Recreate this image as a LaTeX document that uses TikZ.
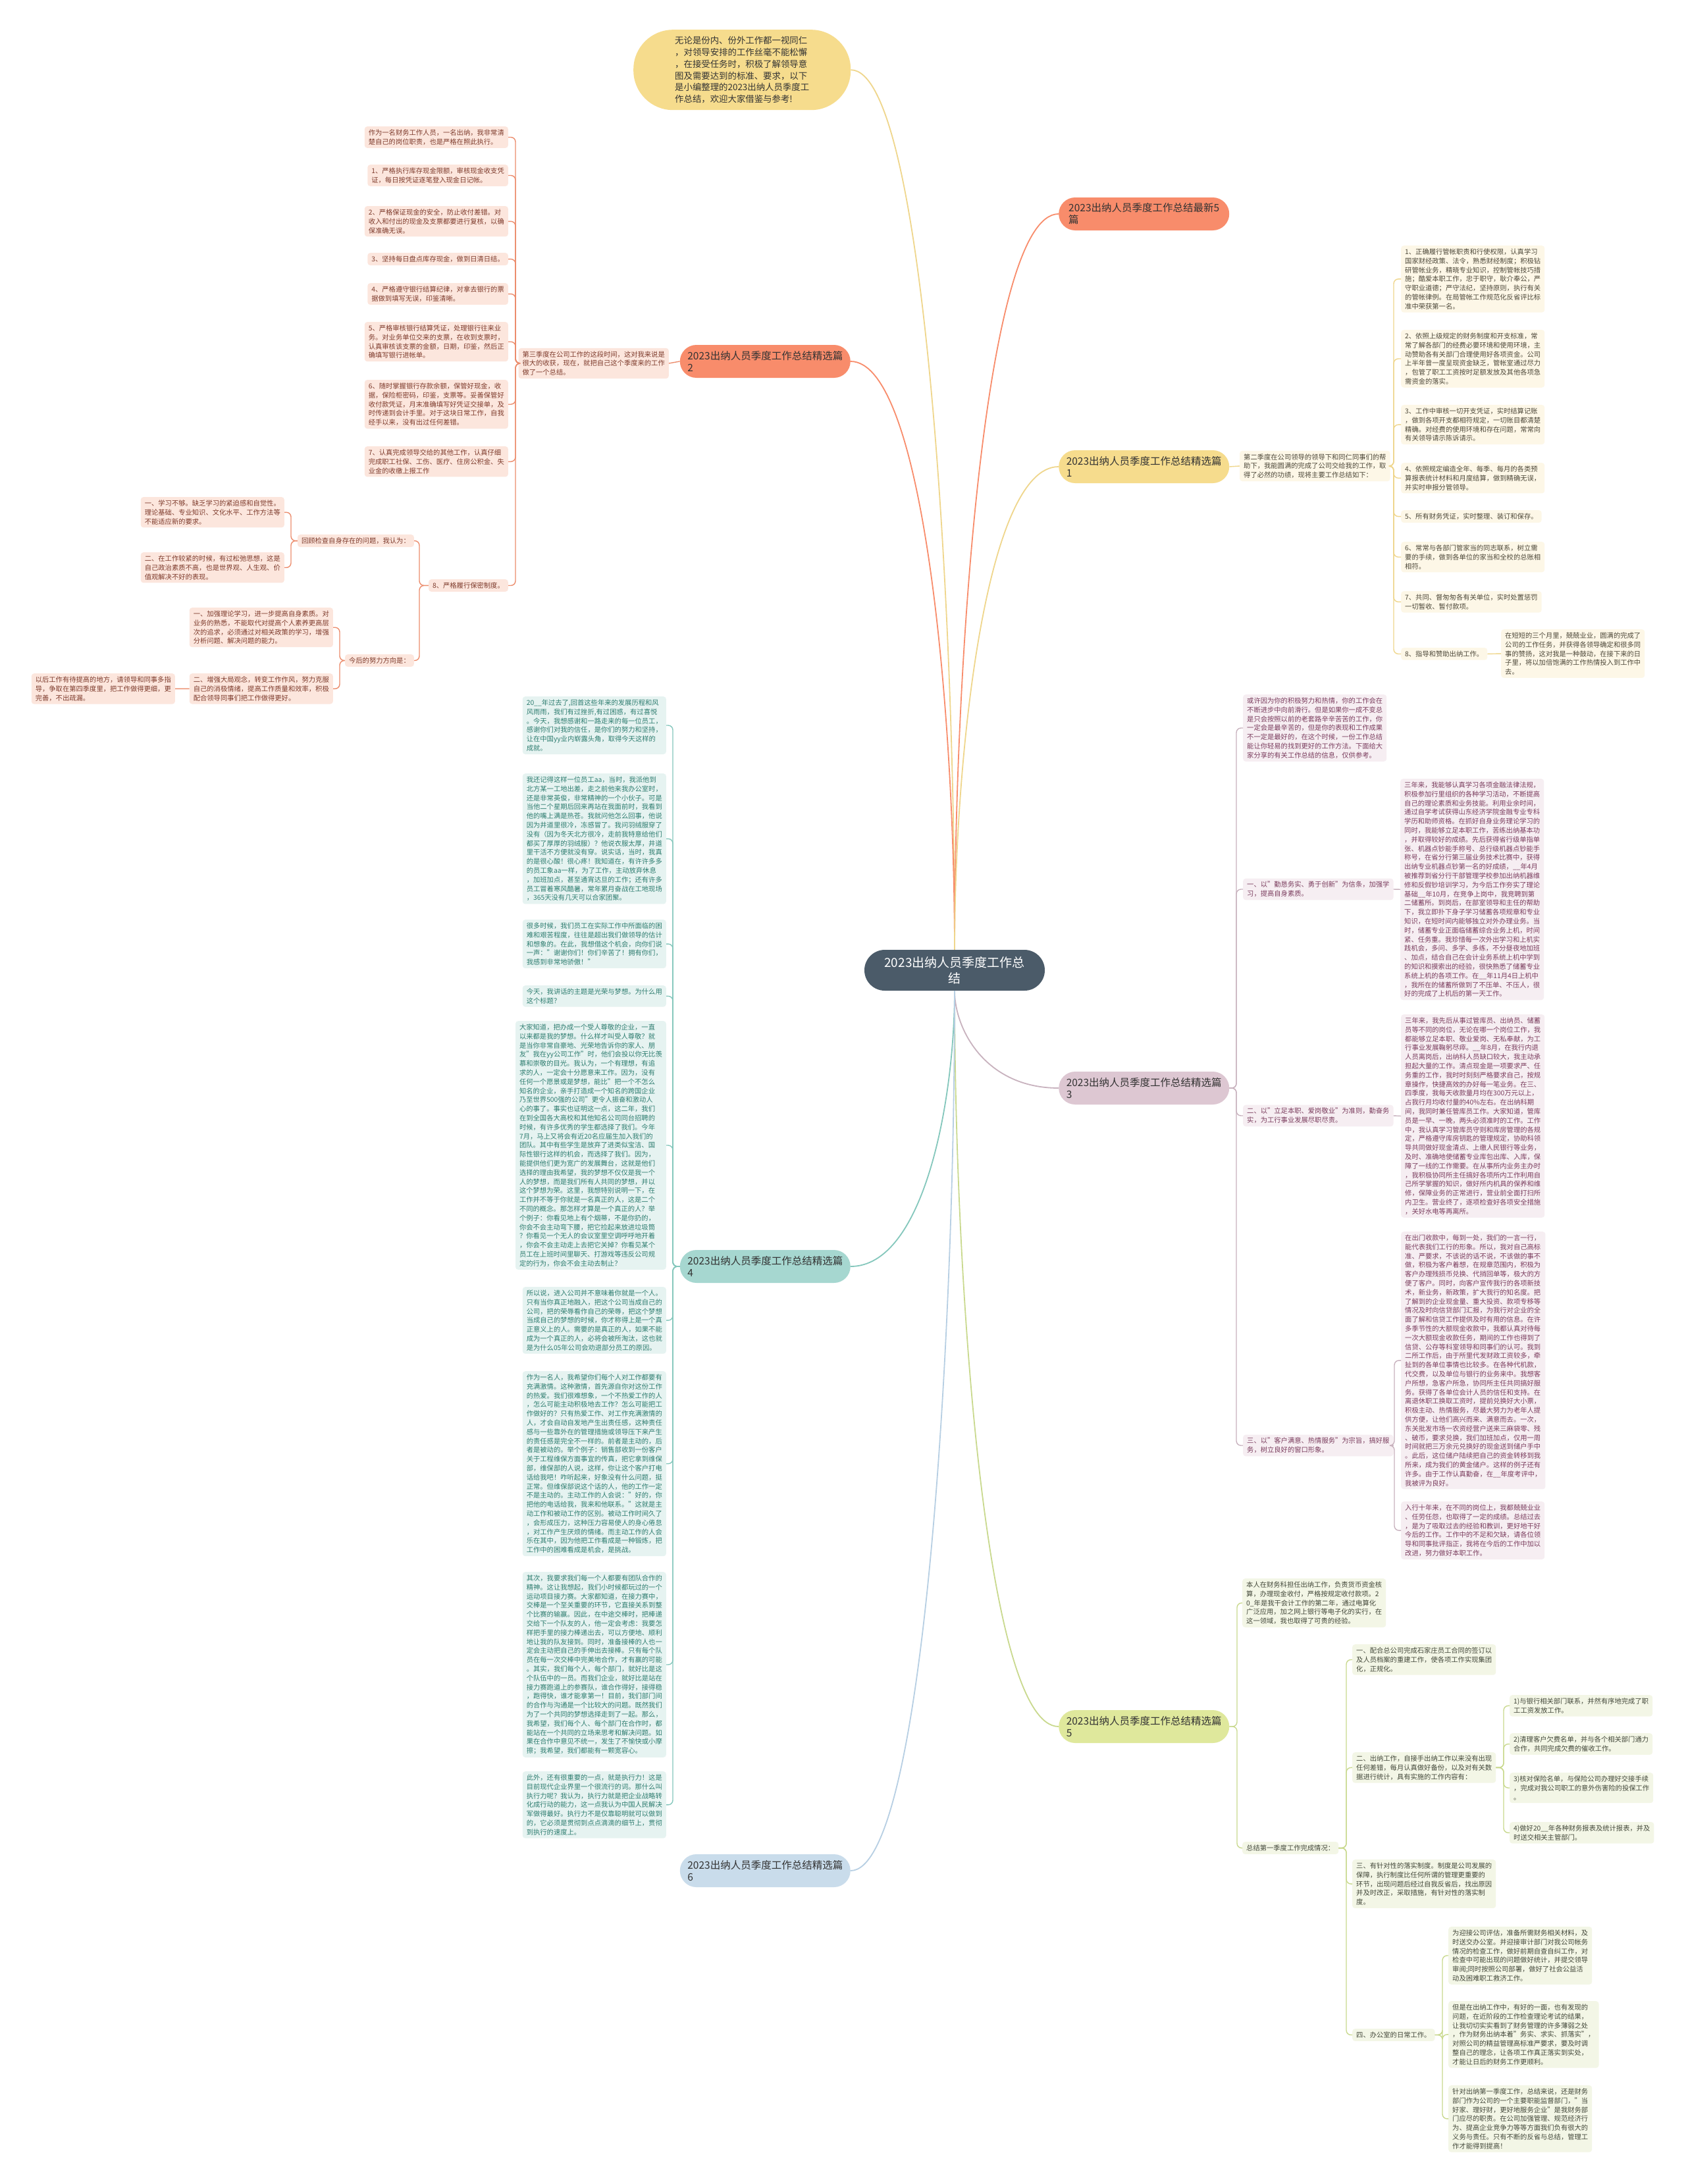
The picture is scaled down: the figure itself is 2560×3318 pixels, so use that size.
\documentclass[tikz,border=0pt]{standalone}
\usepackage{fontspec}
\setmainfont{Noto Sans CJK SC}
\usepackage{tikz}
\usetikzlibrary{positioning}
\usepackage{xcolor}

\definecolor{rootc}{HTML}{4B5B69}
\definecolor{cCoral}{HTML}{F88C6B}
\definecolor{cGold}{HTML}{F6DC8D}
\definecolor{cMauve}{HTML}{DDC7D2}
\definecolor{cTeal}{HTML}{A6D7D0}
\definecolor{cLime}{HTML}{DFE89C}
\definecolor{cSky}{HTML}{C9DCEB}
\definecolor{lCoral}{HTML}{EC8C6C}
\definecolor{lGold}{HTML}{EFD68C}
\definecolor{lMauve}{HTML}{C8B2BE}
\definecolor{lTeal}{HTML}{84C7BC}
\definecolor{lLime}{HTML}{C9D98E}
\definecolor{lSky}{HTML}{B7CFE3}
\definecolor{fCoral}{HTML}{FCE6DD}
\definecolor{fGold}{HTML}{FDF7E7}
\definecolor{fMauve}{HTML}{F6EEF2}
\definecolor{fTeal}{HTML}{E6F3F1}
\definecolor{fLime}{HTML}{F3F6E6}
\definecolor{tCoral}{HTML}{7E3B2C}
\definecolor{tGold}{HTML}{4D4839}
\definecolor{tMauve}{HTML}{7B3D5E}
\definecolor{tTeal}{HTML}{2E7D70}
\definecolor{tLime}{HTML}{43483A}

\begin{document}
\begin{tikzpicture}[x=1pt, y=-1pt]
            \tikzstyle{root} = [rectangle, fill=rootc, text=white, rounded corners=31pt, minimum width=274pt, minimum height=62pt, align=center, font=\fontsize{19}{24}\selectfont]
            \tikzstyle{topic} = [rectangle, rounded corners=25pt, minimum width=259pt, minimum height=50pt, align=left, text=black!80, font=\fontsize{15.5}{18}\selectfont]
            \tikzstyle{intro} = [rectangle, fill=cGold, rounded corners=60pt, minimum width=330pt, minimum height=122pt, align=left, text=black!80, font=\fontsize{13.4}{17.9}\selectfont]
            \tikzstyle{leaf} = [rectangle, rounded corners=4pt, inner xsep=6pt, inner ysep=4.5pt, align=left, font=\fontsize{10.3}{13.8}\selectfont]
            \tikzstyle{leafr} = [leaf, fill=fCoral, text=tCoral]
            \tikzstyle{leafy} = [leaf, fill=fGold, text=tGold]
            \tikzstyle{leafm} = [leaf, fill=fMauve, text=tMauve]
            \tikzstyle{leaft} = [leaf, fill=fTeal, text=tTeal]
            \tikzstyle{leafl} = [leaf, fill=fLime, text=tLime]
            \tikzstyle{wire} = [draw, line width=1.4pt, rounded corners=7pt]
            \tikzstyle{bough} = [draw, line width=1.8pt]

            \useasboundingbox (0,0) rectangle (2560,3318);
            \fill [white] (0,0) rectangle (2560,3318);

            % centre and main topics
            \node [root] (root) at (1450,1474) {2023出纳人员季度工作总\\结};
            \node [intro, anchor=north west] (intro) at (962,45) {无论是份内、份外工作都一视同仁\\，对领导安排的工作丝毫不能松懈\\，在接受任务时，积极了解领导意\\图及需要达到的标准、要求，以下\\是小编整理的2023出纳人员季度工\\作总结，欢迎大家借鉴与参考!};
            \node [topic, fill=cCoral, anchor=west] (t0) at (1608,325) {2023出纳人员季度工作总结最新5\\篇};
            \node [topic, fill=cCoral, anchor=east] (t2) at (1292,549) {2023出纳人员季度工作总结精选篇\\2};
            \node [topic, fill=cGold, anchor=west] (t1) at (1608,709) {2023出纳人员季度工作总结精选篇\\1};
            \node [topic, fill=cMauve, anchor=west] (t3) at (1608,1653) {2023出纳人员季度工作总结精选篇\\3};
            \node [topic, fill=cTeal, anchor=east] (t4) at (1292,1924) {2023出纳人员季度工作总结精选篇\\4};
            \node [topic, fill=cLime, anchor=west] (t5) at (1608,2623) {2023出纳人员季度工作总结精选篇\\5};
            \node [topic, fill=cSky, anchor=east] (t6) at (1292,2842) {2023出纳人员季度工作总结精选篇\\6};

            \path [bough, lGold] (root.north) .. controls (1450,908) and (1403,106) .. (intro.east);
            \path [bough, cCoral] (root.north) .. controls (1450,996) and (1497,325) .. (t0.west);
            \path [bough, cCoral] (root.north) .. controls (1450,1085) and (1403,549) .. (t2.east);
            \path [bough, lGold] (root.north) .. controls (1450,1149) and (1497,709) .. (t1.west);
            \path [bough, lMauve] (root.south) .. controls (1450,1564) and (1497,1653) .. (t3.west);
            \path [bough, lTeal] (root.south) .. controls (1450,1673) and (1403,1924) .. (t4.east);
            \path [bough, lLime] (root.south) .. controls (1450,1952) and (1497,2623) .. (t5.west);
            \path [bough, lSky] (root.south) .. controls (1450,2040) and (1403,2842) .. (t6.east);

            % branch 2
            \node [leafr, anchor=east] (n2) at (1016,552) {第三季度在公司工作的这段时间，这对我来说是\\很大的收获，现在，就把自己这个季度来的工作\\做了一个总结。};
            \node [leafr, anchor=north east] (n2a) at (772,192) {作为一名财务工作人员，一名出纳，我非常清\\楚自己的岗位职责，也是严格在照此执行。};
            \node [leafr, anchor=north east] (n2b) at (772,250) {1、严格执行库存现金限额，审核现金收支凭\\证，每日按凭证逐笔登入现金日记帐。};
            \node [leafr, anchor=north east] (n2c) at (772,313) {2、严格保证现金的安全，防止收付差错。对\\收入和付出的现金及支票都要进行复核，以确\\保准确无误。};
            \node [leafr, anchor=north east] (n2d) at (772,384) {3、坚持每日盘点库存现金，做到日清日结。};
            \node [leafr, anchor=north east] (n2e) at (772,430) {4、严格遵守银行结算纪律，对拿去银行的票\\据做到填写无误，印鉴清晰。};
            \node [leafr, anchor=north east] (n2f) at (772,489) {5、严格审核银行结算凭证，处理银行往来业\\务。对业务单位交来的支票，在收到支票时，\\认真审核该支票的金额，日期，印鉴，然后正\\确填写银行进帐单。};
            \node [leafr, anchor=north east] (n2g) at (772,577) {6、随时掌握银行存款余额，保管好现金，收\\据，保险柜密码，印鉴，支票等。妥善保管好\\收付款凭证，月末准确填写好凭证交接单，及\\时传递到会计手里。对于这块日常工作，自我\\经手以来，没有出过任何差错。};
            \node [leafr, anchor=north east] (n2h) at (772,678) {7、认真完成领导交给的其他工作，认真仔细\\完成职工社保、工伤、医疗、住房公积金、失\\业金的收缴上报工作};
            \node [leafr, anchor=north east] (n2i) at (772,880) {8、严格履行保密制度。};
            \node [leafr, anchor=north east] (n2j) at (629,812) {回顾检查自身存在的问题，我认为：};
            \node [leafr, anchor=north east] (n2k) at (432,755) {一、学习不够。缺乏学习的紧迫感和自觉性。\\理论基础、专业知识、文化水平、工作方法等\\不能适应新的要求。};
            \node [leafr, anchor=north east] (n2l) at (432,839) {二、在工作较紧的时候，有过松弛思想，这是\\自己政治素质不高，也是世界观、人生观、价\\值观解决不好的表现。};
            \node [leafr, anchor=north east] (n2m) at (629,994) {今后的努力方向是：};
            \node [leafr, anchor=north east] (n2n) at (506,923) {一、加强理论学习，进一步提高自身素质。对\\业务的熟悉，不能取代对提高个人素养更高层\\次的追求，必须通过对相关政策的学习，增强\\分析问题、解决问题的能力。};
            \node [leafr, anchor=north east] (n2o) at (506,1023) {二、增强大局观念，转变工作作风，努力克服\\自己的消极情绪，提高工作质量和效率，积极\\配合领导同事们把工作做得更好。};
            \node [leafr, anchor=north east] (n2p) at (266,1023) {以后工作有待提高的地方，请领导和同事多指\\导，争取在第四季度里，把工作做得更细，更\\完善，不出疏漏。};

            \path [wire, lCoral] (t2.west) -- (n2.east);
            \foreach \c in {n2a,n2b,n2c,n2d,n2e,n2f,n2g,n2h,n2i}
                \path [wire, lCoral] (n2.west) -| ([xshift=11pt]\c.east) -- (\c.east);
            \foreach \c in {n2j,n2m}
                \path [wire, lCoral] (n2i.west) -| ([xshift=8pt]\c.east) -- (\c.east);
            \foreach \c in {n2k,n2l}
                \path [wire, lCoral] (n2j.west) -| ([xshift=10pt]\c.east) -- (\c.east);
            \foreach \c in {n2n,n2o}
                \path [wire, lCoral] (n2m.west) -| ([xshift=10pt]\c.east) -- (\c.east);
            \path [wire, lCoral] (n2o.west) -- (n2p.east);

            % branch 1
            \node [leafy, anchor=west] (n1) at (1883,708) {第二季度在公司领导的领导下和同仁同事们的帮\\助下，我能圆满的完成了公司交给我的工作，取\\得了必然的功绩，现将主要工作总结如下：};
            \node [leafy, anchor=north west] (n1a) at (2128,373) {1、正确履行管帐职责和行使权限，认真学习\\国家财经政策、法令，熟悉财经制度；积极钻\\研管帐业务，精晓专业知识，控制管帐技巧措\\施；酷爱本职工作，忠于职守，耿介奉公，严\\守职业道德；严守法纪，坚持原则，执行有关\\的管帐律例。在局管帐工作规范化反省评比标\\准中荣获第一名。};
            \node [leafy, anchor=north west] (n1b) at (2128,501) {2、依照上级规定的财务制度和开支标准，常\\常了解各部门的经费必要环境和使用环境，主\\动赞助各有关部门合理使用好各项资金。公司\\上半年曾一度呈现资金缺乏，管帐室通过尽力\\，包管了职工工资按时足额发放及其他各项急\\需资金的落实。};
            \node [leafy, anchor=north west] (n1c) at (2128,615) {3、工作中审核一切开支凭证，实时结算记账\\，做到各项开支都相符规定，一切账目都清楚\\精确。对经费的使用环境和存在问题，常常向\\有关领导请示陈诉请示。};
            \node [leafy, anchor=north west] (n1d) at (2128,703) {4、依照规定编造全年、每季、每月的各类预\\算报表统计材料和月度结算，做到精确无误，\\并实时申报分管领导。};
            \node [leafy, anchor=north west] (n1e) at (2128,775) {5、所有财务凭证，实时整理、装订和保存。};
            \node [leafy, anchor=north west] (n1f) at (2128,823) {6、常常与各部门管家当的同志联系，树立需\\要的手续，做到各单位的家当和全校的总账相\\相符。};
            \node [leafy, anchor=north west] (n1g) at (2128,898) {7、共同、督匆匆各有关单位，实时处置惩罚\\一切暂收、暂付款项。};
            \node [leafy, anchor=north west] (n1h) at (2128,984) {8、指导和赞助出纳工作。};
            \node [leafy, anchor=north west] (n1i) at (2280,956) {在短短的三个月里，兢兢业业，圆满的完成了\\公司的工作任务，并获得各领导确定和很多同\\事的赞扬，这对我是一种鼓动，在接下来的日\\子里，将以加倍饱满的工作热情投入到工作中\\去。};

            \path [wire, lGold] (t1.east) -- (n1.west);
            \foreach \c in {n1a,n1b,n1c,n1d,n1e,n1f,n1g,n1h}
                \path [wire, lGold] (n1.east) -| ([xshift=-11pt]\c.west) -- (\c.west);
            \path [wire, lGold] (n1h.east) -- (n1i.west);

            % branch 3
            \node [leafm, anchor=north west] (n3) at (1888,1055) {或许因为你的积极努力和热情，你的工作会在\\不断进步中向前滑行。但是如果你一成不变总\\是只会按照以前的老套路辛辛苦苦的工作，你\\一定会是最辛苦的，但是你的表现和工作成果\\不一定是最好的，在这个时候，一份工作总结\\能让你轻易的找到更好的工作方法。下面给大\\家分享的有关工作总结的信息，仅供参考。};
            \node [leafm, anchor=north west] (n3b) at (2127,1183) {三年来，我能够认真学习各项金融法律法规，\\积极参加行里组织的各种学习活动，不断提高\\自己的理论素质和业务技能。利用业余时间，\\通过自学考试获得山东经济学院金融专业专科\\学历和助师资格。在抓好自身业务理论学习的\\同时，我能够立足本职工作，苦练出纳基本功\\，并取得较好的成绩。先后获得省行级单指单\\张、机器点钞能手称号、总行级机器点钞能手\\称号，在省分行第三届业务技术比赛中，获得\\出纳专业机器点钞第一名的好成绩，\_\_年4月\\被推荐到省分行干部管理学校参加出纳机器维\\修和反假钞培训学习，为今后工作夯实了理论\\基础\_\_年10月，在竞争上岗中，我竞聘到第\\二储蓄所。到岗后，在部室领导和主任的帮助\\下，我立即扑下身子学习储蓄各项规章和专业\\知识，在短时间内能够独立对外办理业务。当\\时，储蓄专业正面临储蓄综合业务上机，时间\\紧、任务重。我珍惜每一次外出学习和上机实\\践机会，多问、多学、多练，不分昼夜地加班\\、加点，结合自己在会计业务系统上机中学到\\的知识和摸索出的经验，很快熟悉了储蓄专业\\系统上机的各项工作。在\_\_年11月4日上机中\\，我所在的储蓄所做到了不压单、不压人，很\\好的完成了上机后的第一天工作。};
            \node [leafm, anchor=west] (n3a) at (1888,1351) {一、以"勤恳务实、勇于创新"为信条，加强学\\习，提高自身素质。};
            \node [leafm, anchor=north west] (n3d) at (2128,1541) {三年来，我先后从事过管库员、出纳员、储蓄\\员等不同的岗位，无论在哪一个岗位工作，我\\都能够立足本职、敬业爱岗、无私奉献，为工\\行事业发展鞠躬尽瘁。\_\_年8月，在我行内退\\人员离岗后，出纳科人员缺口较大，我主动承\\担起大量的工作。清点现金是一项要求严、任\\务重的工作，我时时刻刻严格要求自己，按规\\章操作，快捷高效的办好每一笔业务。在三、\\四季度，我每天收款量月均在300万元以上，\\占我行月均收付量的40\%左右。在出纳科期\\间，我同时兼任管库员工作。大家知道，管库\\员是一早、一晚，两头必须准时的工作。工作\\中，我认真学习管库员守则和库房管理的各规\\定，严格遵守库房钥匙的管理规定，协助科领\\导共同做好现金清点、上缴人民银行等业务，\\及时、准确地使储蓄专业库包出库、入库，保\\障了一线的工作需要。在从事所内业务主办时\\，我积极协同所主任搞好各项所内工作利用自\\己所学掌握的知识，做好所内机具的保养和维\\修，保障业务的正常进行，营业前全面打扫所\\内卫生。营业终了，逐项检查好各项安全措施\\，关好水电等再离所。};
            \node [leafm, anchor=west] (n3c) at (1888,1695) {二、以"立足本职、爱岗敬业"为准则，勤奋务\\实，为工行事业发展尽职尽责。};
            \node [leafm, anchor=north west] (n3f) at (2128,1871) {在出门收款中，每到一处，我们的一言一行，\\能代表我们工行的形象。所以，我对自己高标\\准、严要求，不该说的话不说，不该做的事不\\做，积极为客户着想，在规章范围内，积极为\\客户办理残损币兑换、代捎回单等，极大的方\\便了客户。同时，向客户宣传我行的各项新技\\术，新业务，新政策，扩大我行的知名度。把\\了解到的企业现金量、重大投资、款项专移等\\情况及时向信贷部门汇报，为我行对企业的全\\面了解和信贷工作提供及时有用的信息。在许\\多季节性的大额现金收款中，我都认真对待每\\一次大额现金收款任务，期间的工作也得到了\\信贷、公存等科室领导和同事们的认可。我到\\二所工作后，由于所里代发财政工资较多，牵\\扯到的各单位事情也比较多。在各种代机款，\\代交费，以及单位与银行的业务来中。我想客\\户所想，急客户所急，协同所主任共同搞好服\\务。获得了各单位会计人员的信任和支持。在\\离退休职工换取工资时，提前兑换好大小票，\\积极主动、热情服务，尽最大努力为老年人提\\供方便，让他们高兴而来、满意而去。一次，\\东关批发市场一农资经营户送来三麻袋零、残\\、破币，要求兑换，我们加班加点，仅用一周\\时间就把三万余元兑换好的现金送到储户手中\\。此后，这位储户陆续把自己的资金转移到我\\所来，成为我们的黄金储户。这样的例子还有\\许多。由于工作认真勤奋，在\_\_年度考评中，\\我被评为良好。};
            \node [leafm, anchor=north west] (n3g) at (2128,2281) {入行十年来，在不同的岗位上，我都兢兢业业\\、任劳任怨，也取得了一定的成绩。总结过去\\，是为了吸取过去的经验和教训，更好地干好\\今后的工作。工作中的不足和欠缺，请各位领\\导和同事批评指正，我将在今后的工作中加以\\改进，努力做好本职工作。};
            \node [leafm, anchor=west] (n3e) at (1888,2196) {三、以"客户满意、热情服务"为宗旨，搞好服\\务，树立良好的窗口形象。};

            \foreach \c in {n3,n3a,n3c,n3e}
                \path [wire, lMauve] (t3.east) -| ([xshift=-10pt]\c.west) -- (\c.west);
            \path [wire, lMauve] (n3a.east) -- (n3b.west);
            \path [wire, lMauve] (n3c.east) -- (n3d.west);
            \foreach \c in {n3f,n3g}
                \path [wire, lMauve] (n3e.east) -| ([xshift=-10pt]\c.west) -- (\c.west);

            % branch 4
            \node [leaft, anchor=north east] (n4a) at (1012,1058) {20\_\_年过去了,回首这些年来的发展历程和风\\风雨雨，我们有过挫折,有过困惑，有过喜悦\\。今天，我想感谢和一路走来的每一位员工，\\感谢你们对我的信任，是你们的努力和坚持，\\让在中国yy业内崭露头角，取得今天这样的\\成就。};
            \node [leaft, anchor=north east] (n4b) at (1012,1175) {我还记得这样一位员工aa，当时，我派他到\\北方某一工地出差，走之前他来我办公室时，\\还是非常英俊，非常精神的一个小伙子。可是\\当他二个星期后回来再站在我面前时，我看到\\他的嘴上满是热苍。我就问他怎么回事，他说\\因为井道里很冷，冻感冒了。我问羽绒服穿了\\没有（因为冬天北方很冷，走前我特意给他们\\都买了厚厚的羽绒服）？他说衣服太厚，井道\\里干活不方便就没有穿。说实话，当时，我真\\的是很心酸！很心疼！我知道在，有许许多多\\的员工象aa一样，为了工作，主动放弃休息\\，加班加点，甚至通宵达旦的工作；还有许多\\员工冒着寒风酷暑，常年累月奋战在工地现场\\，365天没有几天可以合家团聚。};
            \node [leaft, anchor=north east] (n4c) at (1012,1397) {很多时候，我们员工在实际工作中所面临的困\\难和艰苦程度，往往是超出我们做领导的估计\\和想象的。在此，我想借这个机会，向你们说\\一声："谢谢你们！你们辛苦了！拥有你们，\\我感到非常地骄傲！"};
            \node [leaft, anchor=north east] (n4d) at (1012,1497) {今天，我讲话的主题是光荣与梦想。为什么用\\这个标题？};
            \node [leaft, anchor=north east] (n4e) at (1012,1551) {大家知道，把办成一个受人尊敬的企业，一直\\以来都是我的梦想。什么样才叫受人尊敬？就\\是当你非常自豪地、光荣地告诉你的家人、朋\\友"我在yy公司工作"时，他们会投以你无比羡\\慕和崇敬的目光。我认为，一个有理想，有追\\求的人，一定会十分愿意来工作。因为，没有\\任何一个愿景或是梦想，能比"把一个不怎么\\知名的企业，亲手打造成一个知名的跨国企业\\乃至世界500强的公司"更令人振奋和激动人\\心的事了。事实也证明这一点，这二年，我们\\在到全国各大高校和其他知名公司同台招聘的\\时候，有许多优秀的学生都选择了我们。今年\\7月，马上又将会有近20名应届生加入我们的\\团队。其中有些学生是放弃了进类似宝洁、国\\际性银行这样的机会，而选择了我们。因为，\\能提供他们更为宽广的发展舞台，这就是他们\\选择的理由我希望，我的梦想不仅仅是我一个\\人的梦想，而是我们所有人共同的梦想，并以\\这个梦想为荣。这里，我想特别说明一下，在\\工作并不等于你就是一名真正的人，这是二个\\不同的概念。那怎样才算是一个真正的人？举\\个例子：你看见地上有个烟蒂，不是你扔的，\\你会不会主动弯下腰，把它捡起来放进垃圾筒\\？你看见一个无人的会议室里空调呼呼地开着\\，你会不会主动走上去把它关掉？你看见某个\\员工在上班时间里聊天、打游戏等违反公司规\\定的行为，你会不会主动去制止？};
            \node [leaft, anchor=north east] (n4f) at (1012,1955) {所以说，进入公司并不意味着你就是一个人。\\只有当你真正地融入，把这个公司当成自己的\\公司，把的荣辱看作自己的荣辱，把这个梦想\\当成自己的梦想的时候，你才称得上是一个真\\正意义上的人。需要的是真正的人，如果不能\\成为一个真正的人，必将会被所淘汰，这也就\\是为什么05年公司会劝退部分员工的原因。};
            \node [leaft, anchor=north east] (n4g) at (1012,2083) {作为一名人，我希望你们每个人对工作都要有\\充满激情。这种激情，首先源自你对这份工作\\的热爱。我们很难想象，一个不热爱工作的人\\，怎么可能主动积极地去工作？怎么可能把工\\作做好的？只有热爱工作、对工作充满激情的\\人，才会自动自发地产生出责任感，这种责任\\感与一些靠外在的管理措施或领导压下来产生\\的责任感是完全不一样的。前者是主动的，后\\者是被动的。举个例子：销售部收到一份客户\\关于工程维保方面事宜的传真，把它拿到维保\\部，维保部的人说，这样，你让这个客户打电\\话给我吧！咋听起来，好象没有什么问题，挺\\正常。但维保部说这个话的人，他的工作一定\\不是主动的。主动工作的人会说："好的，你\\把他的电话给我，我来和他联系。"这就是主\\动工作和被动工作的区别。被动工作时间久了\\，会形成压力，这种压力容易使人的身心倦怠\\，对工作产生厌烦的情绪。而主动工作的人会\\乐在其中，因为他把工作看成是一种锻炼，把\\工作中的困难看成是机会，是挑战。};
            \node [leaft, anchor=north east] (n4h) at (1012,2388) {其次，我要求我们每一个人都要有团队合作的\\精神。这让我想起，我们小时候都玩过的一个\\运动项目接力赛。大家都知道，在接力赛中，\\交棒是一个至关重要的环节，它直接关系到整\\个比赛的输赢。因此，在中途交棒时，把棒递\\交给下一个队友的人，他一定会考虑：我要怎\\样把手里的接力棒递出去，可以方便地、顺利\\地让我的队友接到。同时，准备接棒的人也一\\定会主动把自己的手伸出去接棒。只有每个队\\员在每一次交棒中完美地合作，才有赢的可能\\。其实，我们每个人，每个部门，就好比是这\\个队伍中的一员。而我们企业，就好比是站在\\接力赛跑道上的参赛队，谁合作得好，接得稳\\，跑得快，谁才能拿第一！目前，我们部门间\\的合作与沟通是一个比较大的问题。既然我们\\为了一个共同的梦想选择走到了一起。那么，\\我希望，我们每个人、每个部门在合作时，都\\能站在一个共同的立场来思考和解决问题。如\\果在合作中意见不统一，发生了不愉快或小摩\\擦；我希望，我们都能有一颗宽容心。};
            \node [leaft, anchor=north east] (n4i) at (1012,2691) {此外，还有很重要的一点，就是执行力！这是\\目前现代企业界里一个很流行的词。那什么叫\\执行力呢？我认为，执行力就是把企业战略转\\化成行动的能力，这一点我认为中国人民解决\\军做得最好。执行力不是仅靠聪明就可以做到\\的，它必须是贯彻到点点滴滴的细节上，贯彻\\到执行的速度上。};

            \foreach \c in {n4a,n4b,n4c,n4d,n4e,n4f,n4g,n4h,n4i}
                \path [wire, lTeal] (t4.west) -| ([xshift=10pt]\c.east) -- (\c.east);

            % branch 5
            \node [leafl, anchor=north west] (n5a) at (1887,2398) {本人在财务科担任出纳工作，负责货币资金核\\算，办理现金收付，严格按规定收付款项。2\\0\_年是我干会计工作的第二年，通过电算化\\广泛应用，加之网上银行等电子化的实行，在\\这一领域，我也取得了可贵的经验。};
            \node [leafl, anchor=north west] (n5b) at (1887,2798) {总结第一季度工作完成情况：};
            \node [leafl, anchor=north west] (n5c) at (2054,2498) {一、配合总公司完成石家庄员工合同的签订以\\及人员档案的重建工作，使各项工作实现集团\\化，正规化。};
            \node [leafl, anchor=north west] (n5d) at (2054,2662) {二、出纳工作，自接手出纳工作以来没有出现\\任何差错，每月认真做好备份，以及对有关数\\据进行统计，具有实施的工作内容有：};
            \node [leafl, anchor=north west] (n5e) at (2054,2825) {三、有针对性的落实制度。制度是公司发展的\\保障，执行制度比任何所谓的管理更重要的\\环节，出现问题后经过自我反省后，找出原因\\并及时改正，采取措施，有针对性的落实制\\度。};
            \node [leafl, anchor=north west] (n5f) at (2054,3082) {四、办公室的日常工作。};
            \node [leafl, anchor=north west] (n5g) at (2293,2575) {1)与银行相关部门联系，并然有序地完成了职\\工工资发放工作。};
            \node [leafl, anchor=north west] (n5h) at (2293,2633) {2)清理客户欠费名单，并与各个相关部门通力\\合作，共同完成欠费的催收工作。};
            \node [leafl, anchor=north west] (n5i) at (2293,2693) {3)核对保险名单，与保险公司办理好交接手续\\，完成对我公司职工的意外伤害险的投保工作\\。};
            \node [leafl, anchor=north west] (n5j) at (2293,2768) {4)做好20\_\_年各种财务报表及统计报表，并及\\时送交相关主管部门。};
            \node [leafl, anchor=north west] (n5k) at (2200,2927) {为迎接公司评估，准备所需财务相关材料，及\\时送交办公室。并迎接审计部门对我公司帐务\\情况的检查工作，做好前期自查自纠工作，对\\检查中可能出现的问题做好统计，并提交领导\\审阅;同时按照公司部署，做好了社会公益活\\动及困难职工救济工作。};
            \node [leafl, anchor=north west] (n5l) at (2200,3040) {但是在出纳工作中，有好的一面，也有发现的\\问题，在近阶段的工作检查理论考试的结果，\\让我切切实实看到了财务管理的许多薄弱之处\\，作为财务出纳本着"务实、求实、抓落实"，\\对照公司的精益管理高标准严要求，要及时调\\整自己的理念，让各项工作真正落实到实处，\\才能让日后的财务工作更顺利。};
            \node [leafl, anchor=north west] (n5m) at (2200,3168) {针对出纳第一季度工作，总结来说，还是财务\\部门作为公司的一个主要职能监督部门，"当\\好家、理好财，更好地服务企业"是我财务部\\门应尽的职责。在公司加强管理、规范经济行\\为、提高企业竞争力等等方面我们负有很大的\\义务与责任。只有不断的反省与总结，管理工\\作才能得到提高！};

            \foreach \c in {n5a,n5b}
                \path [wire, lLime] (t5.east) -| ([xshift=-8pt]\c.west) -- (\c.west);
            \foreach \c in {n5c,n5d,n5e,n5f}
                \path [wire, lLime] (n5b.east) -| ([xshift=-9pt]\c.west) -- (\c.west);
            \foreach \c in {n5g,n5h,n5i,n5j}
                \path [wire, lLime] (n5d.east) -| ([xshift=-9pt]\c.west) -- (\c.west);
            \foreach \c in {n5k,n5l,n5m}
                \path [wire, lLime] (n5f.east) -| ([xshift=-9pt]\c.west) -- (\c.west);
        \end{tikzpicture}
\end{document}
